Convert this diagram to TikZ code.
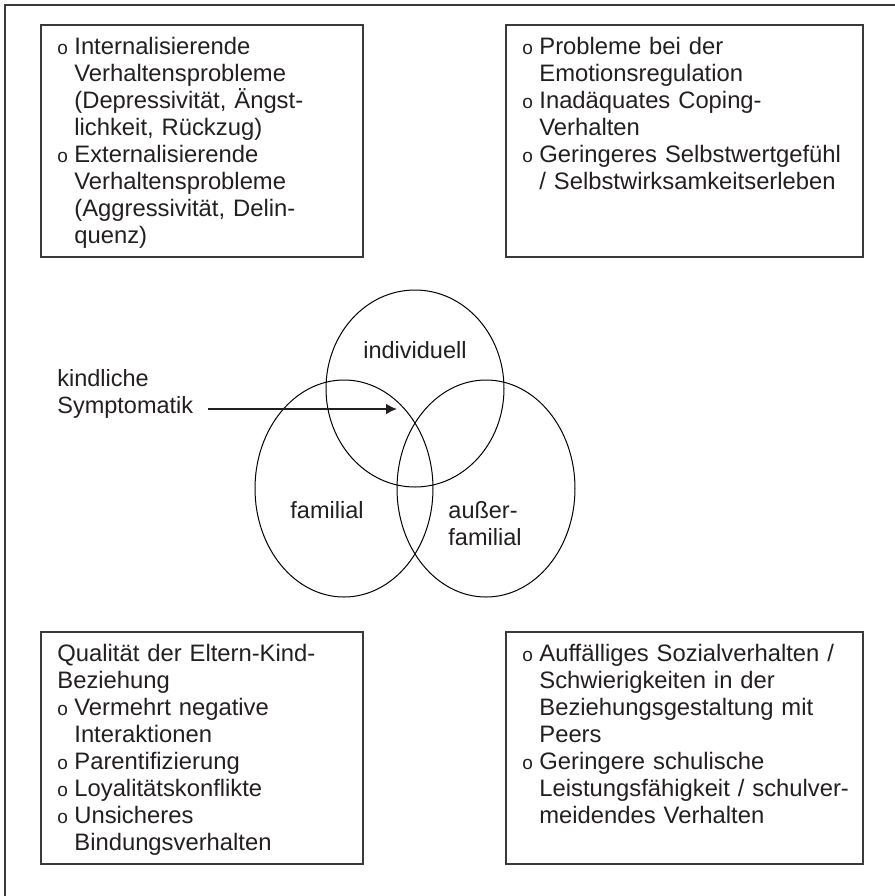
\documentclass[tikz,border=0pt]{standalone}
\usepackage{fontspec}
\setmainfont{Liberation Sans}
\usetikzlibrary{positioning}
\usetikzlibrary{shapes.geometric,arrows.meta}

\definecolor{textgrau}{HTML}{231F20}
\definecolor{rahmengrau}{HTML}{3A3A3A}

\newcommand{\punkt}{\makebox[8.5pt][l]{\fontsize{9.5pt}{9.5pt}\selectfont o}}
\newcommand{\einzug}{\hspace*{8.5pt}}

\begin{document}
\begin{tikzpicture}[x=0.5pt, y=-0.5pt,
    kasten/.style={draw=rahmengrau, line width=0.75pt, anchor=north west,
                   inner sep=0pt, minimum height=116pt},
    kastentext/.style={anchor=north west, inner sep=0pt, text=textgrau,
                       align=left, text width=#1,
                       font=\fontsize{11.9pt}{13.5pt}\selectfont,
                       execute at begin node={\parindent0pt\rule{0pt}{14.8pt}}},
    etikett/.style={inner sep=0pt, text=textgrau, align=left,
                    font=\fontsize{11.75pt}{13.5pt}\selectfont},
    oval/.style={ellipse, draw=black, line width=0.5pt, inner sep=0pt,
                 minimum width=89pt},
    pfeil/.style={-{Latex[length=5.5pt,width=5.5pt]}, line width=1pt, draw=textgrau},
  ]

  \useasboundingbox (0,0) rectangle (895,896);

  % Rahmen (nur links und oben sichtbar)
  \draw[rahmengrau, line width=0.75pt] (5,896) -- (5,5) -- (895,5);

  % Kaesten
  \node (kastenLO) [kasten, minimum width=161pt] at (40,24) {};
  \node (kastenRO) [kasten, minimum width=178.5pt] at (505,24) {};
  \node (kastenLU) [kasten, minimum width=161pt] at (40,631) {};
  \node (kastenRU) [kasten, minimum width=178.5pt] at (505,631) {};

  \node (textLO) [kastentext=155pt] at ([xshift=8.5pt]kastenLO.north west) {%
    \punkt Internalisierende\\
    \einzug Verhaltensprobleme\\
    \einzug (Depressivität, Ängst-\\
    \einzug lichkeit, Rückzug)\\
    \punkt Externalisierende\\
    \einzug Verhaltensprobleme\\
    \einzug (Aggressivität, Delin-\\
    \einzug quenz)};

  \node (textRO) [kastentext=180pt] at ([xshift=8.5pt]kastenRO.north west) {%
    \punkt Probleme bei der\\
    \einzug Emotionsregulation\\
    \punkt Inadäquates Coping-\\
    \einzug Verhalten\\
    \punkt Geringeres Selbstwertgefühl\\
    \einzug / Selbstwirksamkeitserleben};

  % letzte Zeile wird vom Kasten abgeschnitten
  \begin{scope}
    \clip (kastenLU.north west) rectangle ([yshift=5pt]kastenLU.south east);
    \node (textLU) [kastentext=155pt] at ([xshift=8.5pt]kastenLU.north west) {%
      Qualität der Eltern-Kind-\\
      Beziehung\\
      \punkt Vermehrt negative\\
      \einzug Interaktionen\\
      \punkt Parentifizierung\\
      \punkt Loyalitätskonflikte\\
      \punkt Unsicheres\\
      \einzug Bindungsverhalten};
  \end{scope}

  \node (textRU) [kastentext=180pt] at ([xshift=8.5pt]kastenRU.north west) {%
    \punkt Auffälliges Sozialverhalten /\\
    \einzug Schwierigkeiten in der\\
    \einzug Beziehungsgestaltung mit\\
    \einzug Peers\\
    \punkt Geringere schulische\\
    \einzug Leistungsfähigkeit / schulver-\\
    \einzug meidendes Verhalten};

  % drei Ellipsen
  \node (individuell) [oval, minimum height=98.5pt] at (415,388.5) {};
  \node (familial) [oval, minimum height=108.5pt] at (344,488.5) {};
  \node (ausserfam) [oval, minimum height=108.5pt] at (486,488.5) {};

  \node (lblindividuell) [etikett] at (415,350) {individuell};
  \node (lblfamilial) [etikett] at (327,510) {familial};
  \node (lblausserfam) [etikett] at (485,523.5) {außer-\\familial};

  \node (symptomatik) [etikett, anchor=west] at (57,393.5) {kindliche\\Symptomatik};

  \coordinate (pfeilende) at (397,409);
  \draw[pfeil] (symptomatik.east |- pfeilende) ++(7pt,0) -- (pfeilende);

\end{tikzpicture}
\end{document}
